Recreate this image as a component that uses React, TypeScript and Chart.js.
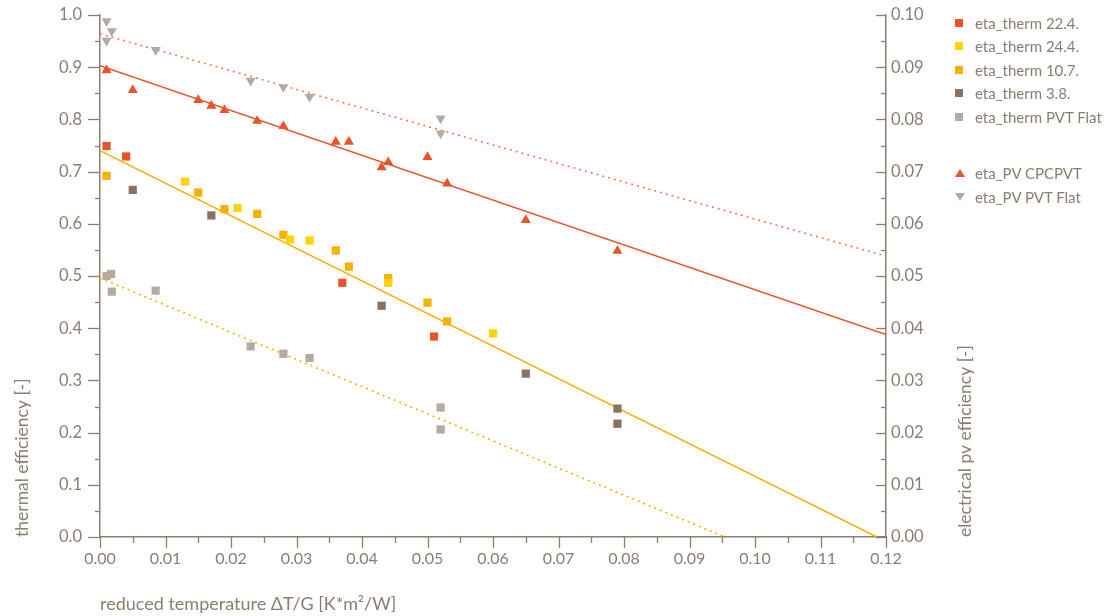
import React, { useEffect, useRef } from "react";
import { Chart, registerables } from "chart.js";

Chart.register(...registerables);

// ---------- data ----------
const therm224X = [0.001, 0.004, 0.037, 0.051];
const therm224Y = [0.749, 0.729, 0.487, 0.384];

const therm244X = [0.013, 0.021, 0.029, 0.032, 0.044, 0.060];
const therm244Y = [0.681, 0.630, 0.570, 0.568, 0.487, 0.390];

const therm107X = [0.001, 0.015, 0.019, 0.024, 0.028, 0.036, 0.038, 0.044, 0.050, 0.053];
const therm107Y = [0.692, 0.660, 0.628, 0.619, 0.579, 0.549, 0.518, 0.496, 0.449, 0.413];

const therm38X = [0.005, 0.017, 0.043, 0.065, 0.079, 0.079];
const therm38Y = [0.665, 0.616, 0.443, 0.313, 0.246, 0.217];

const thermFlatX = [0.001, 0.0017, 0.0018, 0.0085, 0.023, 0.028, 0.032, 0.052, 0.052];
const thermFlatY = [0.500, 0.504, 0.470, 0.472, 0.365, 0.351, 0.343, 0.248, 0.206];

const pvCpcX = [0.001, 0.005, 0.015, 0.017, 0.019, 0.024, 0.028, 0.036, 0.038, 0.043, 0.044, 0.050, 0.053, 0.065, 0.079];
const pvCpcY = [0.0894, 0.0856, 0.0837, 0.0826, 0.0818, 0.0797, 0.0787, 0.0757, 0.0757, 0.0708, 0.0718, 0.0728, 0.0677, 0.0607, 0.0548];

const pvFlatX = [0.001, 0.0018, 0.001, 0.0085, 0.023, 0.028, 0.032, 0.052, 0.052];
const pvFlatY = [0.0988, 0.0969, 0.0951, 0.0933, 0.0874, 0.0862, 0.0843, 0.0802, 0.0773];

// regression lines
const fitPvCpcX = [0, 0.12];
const fitPvCpcY = [0.0903, 0.0388];
const fitPvFlatX = [0, 0.12];
const fitPvFlatY = [0.0964, 0.0538];
const fitThermCpcX = [0, 0.1186];
const fitThermCpcY = [0.740, 0];
const fitThermFlatX = [0, 0.0954];
const fitThermFlatY = [0.496, 0];

const legendLabels = [
  "eta_therm 22.4.",
  "eta_therm 24.4.",
  "eta_therm 10.7.",
  "eta_therm 3.8.",
  "eta_therm PVT Flat",
  "eta_PV CPCPVT",
  "eta_PV PVT Flat",
];

// ---------- styles ----------
const TEXT = "#8B7D6F";
const AXIS = "#8E7F70";
const RED = "#E9532A";
const YELLOW = "#FFD400";
const ORANGE = "#F9B000";
const BROWN = "#8A7260";
const GRAY = "#B5AAA0";
const FONT = "Lato";
const CLEAR = "rgba(0,0,0,0)";

const zip = (xs: number[], ys: number[]) => xs.map((x, i) => ({ x, y: ys[i] }));

const tickPlugin = {
  id: "customTicks",
  afterDraw(chart: any) {
    const ctx = chart.ctx;
    const { x, y, y2 } = chart.scales;
    const area = chart.chartArea;
    ctx.save();
    ctx.strokeStyle = AXIS;
    ctx.lineWidth = 1.3;
    // left axis
    for (let i = 0; i <= 20; i++) {
      const v = i * 0.05;
      const py = Math.round(y.getPixelForValue(v)) + 0.5;
      const len = i % 2 === 0 ? 12 : 5;
      ctx.beginPath();
      ctx.moveTo(area.left - len, py);
      ctx.lineTo(area.left, py);
      ctx.stroke();
    }
    // right axis (ticks inward)
    for (let i = 0; i <= 20; i++) {
      const v = i * 0.005;
      const py = Math.round(y2.getPixelForValue(v)) + 0.5;
      const len = i % 2 === 0 ? 10 : 5;
      ctx.beginPath();
      ctx.moveTo(area.right - len, py);
      ctx.lineTo(area.right, py);
      ctx.stroke();
    }
    // bottom axis
    for (let i = 0; i <= 24; i++) {
      const v = i * 0.005;
      const px = Math.round(x.getPixelForValue(v)) + 0.5;
      const len = i % 2 === 0 ? 11 : 6;
      ctx.beginPath();
      ctx.moveTo(px, area.bottom);
      ctx.lineTo(px, area.bottom + len);
      ctx.stroke();
    }
    // right axis title (reads bottom to top)
    ctx.fillStyle = TEXT;
    ctx.font = `17.5px ${FONT}`;
    ctx.translate(965, area.bottom);
    ctx.rotate(-Math.PI / 2);
    ctx.textAlign = "left";
    ctx.textBaseline = "middle";
    ctx.fillText("electrical pv efficiency [-]", 0, 0);
    ctx.restore();
  },
};

function LegendMarker({ kind, color }: { kind: string; color: string }) {
  if (kind === "square") {
    return <div style={{ width: 8, height: 8, background: color }} />;
  }
  const pts = kind === "up" ? "0,8 5,0 10,8" : "0,0 10,0 5,8";
  return (
    <svg width={10} height={8} style={{ display: "block" }}>
      <polygon points={pts} fill={color} />
    </svg>
  );
}

export default function App() {
  const canvasRef = useRef<HTMLCanvasElement | null>(null);

  useEffect(() => {
    if (!canvasRef.current) return;
    const scatterBase = { type: "scatter" as const, showLine: false, borderWidth: 0 };
    const chart = new Chart(canvasRef.current, {
      type: "scatter",
      data: {
        datasets: [
          { ...scatterBase, label: legendLabels[0], data: zip(therm224X, therm224Y), yAxisID: "y", pointStyle: "rect", pointRadius: 5.8, backgroundColor: RED, borderColor: RED },
          { ...scatterBase, label: legendLabels[1], data: zip(therm244X, therm244Y), yAxisID: "y", pointStyle: "rect", pointRadius: 5.8, backgroundColor: YELLOW, borderColor: YELLOW },
          { ...scatterBase, label: legendLabels[2], data: zip(therm107X, therm107Y), yAxisID: "y", pointStyle: "rect", pointRadius: 5.8, backgroundColor: ORANGE, borderColor: ORANGE },
          { ...scatterBase, label: legendLabels[3], data: zip(therm38X, therm38Y), yAxisID: "y", pointStyle: "rect", pointRadius: 5.8, backgroundColor: BROWN, borderColor: BROWN },
          { ...scatterBase, label: legendLabels[4], data: zip(thermFlatX, thermFlatY), yAxisID: "y", pointStyle: "rect", pointRadius: 5.8, backgroundColor: GRAY, borderColor: GRAY },
          { ...scatterBase, label: legendLabels[5], data: zip(pvCpcX, pvCpcY), yAxisID: "y2", pointStyle: "triangle", pointRadius: 5.8, backgroundColor: RED, borderColor: RED },
          { ...scatterBase, label: legendLabels[6], data: zip(pvFlatX, pvFlatY), yAxisID: "y2", pointStyle: "triangle", rotation: 180, pointRadius: 5.8, backgroundColor: GRAY, borderColor: GRAY },
          { type: "line", label: "fit pv cpc", data: zip(fitPvCpcX, fitPvCpcY), yAxisID: "y2", borderColor: RED, borderWidth: 1.5, pointRadius: 0, fill: false },
          { type: "line", label: "fit pv flat", data: zip(fitPvFlatX, fitPvFlatY), yAxisID: "y2", borderColor: "#EE7A55", borderWidth: 1.6, borderDash: [2, 4], pointRadius: 0, fill: false },
          { type: "line", label: "fit therm cpc", data: zip(fitThermCpcX, fitThermCpcY), yAxisID: "y", borderColor: ORANGE, borderWidth: 1.5, pointRadius: 0, fill: false },
          { type: "line", label: "fit therm flat", data: zip(fitThermFlatX, fitThermFlatY), yAxisID: "y", borderColor: ORANGE, borderWidth: 1.6, borderDash: [2, 4], pointRadius: 0, fill: false },
        ] as any,
      },
      options: {
        responsive: false,
        animation: false,
        devicePixelRatio: 1,
        layout: { padding: { left: 0, top: 15, right: 166, bottom: 0 } },
        plugins: { legend: { display: false }, tooltip: { enabled: false } },
        scales: {
          x: {
            type: "linear",
            min: 0,
            max: 0.12,
            afterFit: (s: any) => { s.height = 79; },
            grid: { display: true, drawOnChartArea: false, drawTicks: true, tickLength: 10, color: CLEAR },
            border: { display: true, color: AXIS, width: 1.5 },
            ticks: {
              stepSize: 0.01,
              padding: 2,
              color: TEXT,
              font: { family: FONT, size: 16 },
              callback: (v: any) => Number(v).toFixed(2),
            },
            title: {
              display: true,
              text: "reduced temperature ΔT/G [K*m²/W]",
              align: "start",
              color: TEXT,
              font: { family: FONT, size: 18 },
              padding: { top: 0, bottom: 1 },
            },
          },
          y: {
            type: "linear",
            position: "left",
            min: 0,
            max: 1,
            afterFit: (s: any) => { s.width = 100; },
            grid: { display: true, drawOnChartArea: false, drawTicks: true, tickLength: 16, color: CLEAR },
            border: { display: true, color: AXIS, width: 1.5 },
            ticks: {
              stepSize: 0.1,
              padding: 2,
              color: TEXT,
              font: { family: FONT, size: 16.5 },
              callback: (v: any) => Number(v).toFixed(1),
            },
            title: {
              display: true,
              text: "thermal efficiency [-]",
              align: "start",
              color: TEXT,
              font: { family: FONT, size: 17.5 },
              padding: { top: 12, bottom: 0 },
            },
          },
          y2: {
            type: "linear",
            position: "right",
            min: 0,
            max: 0.1,
            afterFit: (s: any) => { s.width = 60; },
            grid: { display: true, drawOnChartArea: false, drawTicks: true, tickLength: 3, color: CLEAR },
            border: { display: true, color: AXIS, width: 1.5 },
            ticks: {
              stepSize: 0.01,
              padding: 2,
              color: TEXT,
              font: { family: FONT, size: 16.5 },
              callback: (v: any) => Number(v).toFixed(2),
            },
          },
        },
      } as any,
      plugins: [tickPlugin],
    });
    return () => chart.destroy();
  }, []);

  const legendRows = [
    { y: 22.7, kind: "square", color: RED },
    { y: 46.2, kind: "square", color: YELLOW },
    { y: 69.7, kind: "square", color: ORANGE },
    { y: 93.2, kind: "square", color: BROWN },
    { y: 116.7, kind: "square", color: GRAY },
    { y: 173.3, kind: "up", color: RED },
    { y: 196.8, kind: "down", color: GRAY },
  ];

  return (
    <div style={{ position: "fixed", left: 0, top: 0, width: 1112, height: 616, background: "#fff", overflow: "hidden" }}>
      <canvas ref={canvasRef} width={1112} height={616} style={{ position: "absolute", left: 0, top: 0 }} />
      {legendRows.map((r, i) => (
        <div key={i} style={{ position: "absolute", left: 0, top: 0 }}>
          <div style={{ position: "absolute", left: r.kind === "square" ? 955 : 954.5, top: r.y - 4 }}>
            <LegendMarker kind={r.kind} color={r.color} />
          </div>
          <div
            style={{
              position: "absolute",
              left: 975,
              top: r.y - 10,
              height: 20,
              lineHeight: "20px",
              fontFamily: FONT,
              fontSize: 15,
              color: TEXT,
              whiteSpace: "nowrap",
            }}
          >
            {legendLabels[i]}
          </div>
        </div>
      ))}
    </div>
  );
}
